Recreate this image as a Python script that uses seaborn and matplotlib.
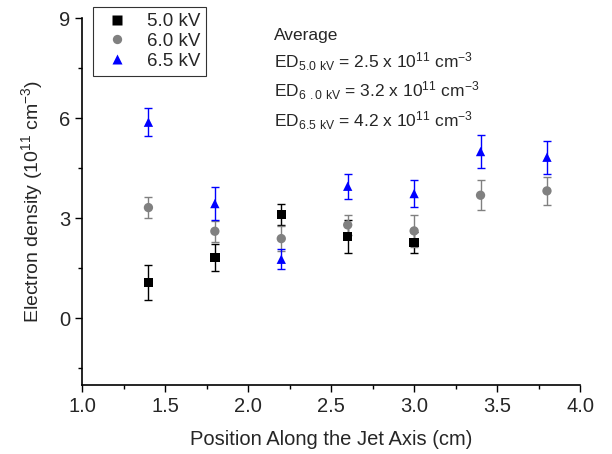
import numpy as np
import pandas as pd
import seaborn as sns
import matplotlib.pyplot as plt

# data
pos_50 = [1.4, 1.8, 2.2, 2.6, 3.0]
ed_50 = [1.07, 1.82, 3.11, 2.45, 2.28]
err_50 = [0.52, 0.41, 0.32, 0.50, 0.32]

pos_60 = [1.4, 1.8, 2.2, 2.6, 3.0, 3.4, 3.8]
ed_60 = [3.32, 2.61, 2.39, 2.80, 2.62, 3.69, 3.82]
err_60 = [0.32, 0.32, 0.37, 0.31, 0.49, 0.45, 0.43]

pos_65 = [1.4, 1.8, 2.2, 2.6, 3.0, 3.4, 3.8]
ed_65 = [5.88, 3.44, 1.77, 3.96, 3.74, 5.00, 4.83]
err_65 = [0.42, 0.49, 0.30, 0.37, 0.40, 0.50, 0.50]

labels = ['5.0 kV', '6.0 kV', '6.5 kV']

sns.set_style('ticks')
plt.rcParams['font.family'] = ['Liberation Sans', 'DejaVu Sans']
plt.rcParams['mathtext.default'] = 'regular'

df = pd.concat([
    pd.DataFrame({'pos': pos_50, 'ed': ed_50, 'err': err_50, 'volt': labels[0]}),
    pd.DataFrame({'pos': pos_60, 'ed': ed_60, 'err': err_60, 'volt': labels[1]}),
    pd.DataFrame({'pos': pos_65, 'ed': ed_65, 'err': err_65, 'volt': labels[2]}),
])

colors = {'5.0 kV': 'black', '6.0 kV': 'gray', '6.5 kV': 'blue'}
markers = {'5.0 kV': 's', '6.0 kV': 'o', '6.5 kV': '^'}

fig = plt.figure(figsize=(6.12, 4.54), dpi=100)
ax = fig.add_axes([0.134, 0.152, 0.814, 0.808])

for v in labels:
    sub = df[df['volt'] == v]
    ax.errorbar(sub['pos'], sub['ed'], yerr=sub['err'], fmt='none',
                ecolor=colors[v], elinewidth=1, capsize=3.2, capthick=1, zorder=2)

sns.scatterplot(data=df, x='pos', y='ed', hue='volt', style='volt',
                palette=colors, markers=markers, s=45, edgecolor='none',
                ax=ax, zorder=3)

ax.set_xlim(1.0, 4.0)
ax.set_ylim(-2, 9)
ax.set_xticks(np.arange(1.0, 4.01, 0.5))
ax.set_xticks(np.arange(1.0, 4.01, 0.25), minor=True)
ax.set_yticks([0, 3, 6, 9])
ax.set_yticks([-1.5, 1.5, 4.5, 7.5], minor=True)
ax.xaxis.set_major_formatter(plt.FormatStrFormatter('%.1f'))
ax.tick_params(which='both', direction='out', labelsize=14.5, width=1, color='black')
ax.tick_params(which='major', length=5)
ax.tick_params(which='minor', length=3)
sns.despine(ax=ax)
for s in ['left', 'bottom']:
    ax.spines[s].set_color('black')
    ax.spines[s].set_linewidth(1.2)

ax.set_xlabel('Position Along the Jet Axis (cm)', fontsize=14.5, labelpad=10)
ax.set_ylabel('Electron density (10$^{11}$ cm$^{-3}$)', fontsize=14, labelpad=10)

leg = ax.legend(title=None, loc='upper left', bbox_to_anchor=(0.003, 1.055),
                fontsize=13.5, frameon=True, fancybox=False, edgecolor='black',
                handletextpad=0.6, borderpad=0.3, labelspacing=0.15, markerscale=1.0)
leg.get_frame().set_linewidth(0.8)

ax.text(0.385, 0.94, 'Average', transform=ax.transAxes, fontsize=12.5)
ax.text(0.385, 0.865, 'ED$_{5.0\\ kV}$ = 2.5 x 10$^{11}$ cm$^{-3}$', transform=ax.transAxes, fontsize=12.5)
ax.text(0.385, 0.785, 'ED$_{6\\ .0\\ kV}$ = 3.2 x 10$^{11}$ cm$^{-3}$', transform=ax.transAxes, fontsize=12.5)
ax.text(0.385, 0.705, 'ED$_{6.5\\ kV}$ = 4.2 x 10$^{11}$ cm$^{-3}$', transform=ax.transAxes, fontsize=12.5)

plt.savefig('out.png', dpi=100)
